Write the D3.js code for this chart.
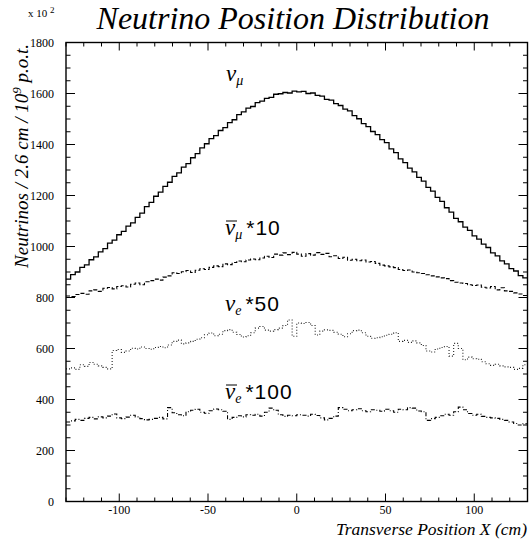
<!DOCTYPE html>
<html><head><meta charset="utf-8">
<script src="https://cdn.jsdelivr.net/npm/d3@7"></script>
<style>
html,body{margin:0;padding:0;background:#fff;}
svg{display:block;}
</style></head>
<body>
<svg id="c" width="530" height="541"></svg>
<script>
// ---- data ----
const xMin = -130, xMax = 130, nBins = 100;
const xTicks = [-100, -50, 0, 50, 100];
const yTicks = [0, 200, 400, 600, 800, 1000, 1200, 1400, 1600, 1800];
const seriesNames = ["numu", "numubar10", "nue50", "nuebar100"];

const numu = [872,890,900,918,928,948,959,979,992,1013,1025,1046,1059,1080,1093,1114,1131,1156,1173,1197,
1213,1236,1252,1275,1289,1311,1325,1348,1364,1387,1403,1423,1435,1455,1466,1486,1497,1517,1528,1543,
1549,1564,1570,1581,1585,1597,1599,1604,1602,1609,1606,1608,1600,1602,1593,1590,1577,1574,1560,1553,
1539,1532,1513,1501,1482,1470,1451,1439,1419,1407,1383,1368,1344,1329,1307,1293,1271,1256,1232,1217,
1193,1177,1152,1135,1110,1097,1076,1063,1042,1029,1009,996,975,963,944,932,913,904,886,877];

const numubar10 = [806,804,812,816,813,826,830,824,836,839,834,843,846,841,852,857,850,862,866,872,
868,880,885,897,894,901,906,898,907,913,910,918,924,921,932,929,937,943,940,947,
951,948,955,962,957,970,966,975,968,977,970,962,972,966,976,969,973,960,964,953,
958,946,950,944,947,939,941,934,927,924,920,917,910,906,908,900,897,894,889,885,
881,877,874,866,860,857,855,850,847,849,840,837,843,830,838,826,824,818,814,808];

const nue50 = [520,524,518,536,530,545,538,532,526,520,592,596,585,590,601,598,606,600,597,604,
608,603,614,628,633,618,622,628,636,642,654,661,650,656,670,674,664,655,645,650,
662,680,686,672,668,674,680,690,712,648,700,698,702,690,653,668,673,671,664,656,
646,658,670,672,662,648,640,642,646,652,656,662,628,632,624,630,622,612,590,586,
598,604,608,570,620,600,556,566,560,558,548,540,534,538,532,528,526,518,522,536];

const nuebar100 = [312,316,322,318,326,330,324,332,328,335,343,328,325,331,338,332,325,320,322,326,
330,324,368,348,340,336,352,358,362,350,346,356,363,360,354,322,330,336,332,340,
338,342,335,350,366,358,340,334,338,336,340,338,335,342,337,328,320,326,335,368,
362,356,360,364,356,352,360,358,354,362,356,350,362,360,368,366,355,352,318,325,
330,336,342,338,352,370,360,345,338,342,334,330,328,326,322,318,312,306,300,305];

const labelSubs = ["μ", "μ", "e", "e"];
const labelBars = [false, true, false, true];
const labelMults = ["", "*10", "*50", "*100"];

// ---- layout ----
const svg = d3.select("#c");
const L = 66, R = 527.5, T = 42.5, B = 501.5;
const x = d3.scaleLinear().domain([xMin, xMax]).range([L, R]);
const y = d3.scaleLinear().domain([0, 1800]).range([B, T]);
const binW = (xMax - xMin) / nBins;

function histPoints(vals) {
  const pts = vals.map((v, i) => [xMin + i * binW, v]);
  pts.push([xMax, vals[vals.length - 1]]);
  return pts;
}
const line = d3.line().x(d => x(d[0])).y(d => y(d[1])).curve(d3.curveStepAfter);

const styles = {
  numu: {dash: null, w: 1.3, c: "#000"},
  numubar10: {dash: "4,2", w: 1.1, c: "#000"},
  nue50: {dash: "1,2", w: 1.1, c: "#222"},
  nuebar100: {dash: "4,2,1,2", w: 1.1, c: "#000"}
};
const data = {numu, numubar10, nue50, nuebar100};

const g = svg.append("g");
seriesNames.forEach(n => {
  g.append("path").attr("d", line(histPoints(data[n])))
    .attr("fill", "none").attr("stroke", styles[n].c)
    .attr("stroke-width", styles[n].w)
    .attr("stroke-dasharray", styles[n].dash);
});

// ---- frame & ticks ----
const frame = svg.append("g").attr("stroke", "#000").attr("stroke-width", 1.4);
frame.append("rect").attr("x", L).attr("y", T).attr("width", R - L).attr("height", B - T).attr("fill", "none");

const xMinor = d3.range(-130, 131, 10);
xMinor.forEach(v => {
  const major = v % 50 === 0;
  const len = major ? 8 : 4;
  frame.append("line").attr("x1", x(v)).attr("x2", x(v)).attr("y1", B).attr("y2", B - len).attr("stroke-width", 1);
  frame.append("line").attr("x1", x(v)).attr("x2", x(v)).attr("y1", T).attr("y2", T + len).attr("stroke-width", 1);
});
const yMinor = d3.range(0, 1801, 50);
yMinor.forEach(v => {
  const major = v % 200 === 0;
  const len = major ? 9 : 4.5;
  frame.append("line").attr("y1", y(v)).attr("y2", y(v)).attr("x1", L).attr("x2", L + len).attr("stroke-width", 1);
  frame.append("line").attr("y1", y(v)).attr("y2", y(v)).attr("x1", R).attr("x2", R - len).attr("stroke-width", 1);
});

const serif = "'Liberation Serif', 'Times New Roman', serif";
const sans = "'Liberation Sans', Arial, sans-serif";

svg.append("g").selectAll("text").data(xTicks).join("text")
  .attr("x", d => x(d)).attr("y", 514).attr("text-anchor", "middle")
  .attr("font-family", serif).attr("font-size", 12).text(d => d);
svg.append("g").selectAll("text").data(yTicks).join("text")
  .attr("x", 54).attr("y", d => y(d) + 4).attr("text-anchor", "end")
  .attr("font-family", serif).attr("font-size", 12).text(d => d);

// exponent
const ex = svg.append("text").attr("x", 28).attr("y", 17).attr("font-family", serif).attr("font-size", 11);
ex.append("tspan").text("x 10 ");
ex.append("tspan").attr("dy", -4).attr("font-size", 9).text("2");

// title
svg.append("text").attr("x", 293).attr("y", 29).attr("text-anchor", "middle")
  .attr("font-family", serif).attr("font-style", "italic").attr("font-size", 32)
  .text("Neutrino Position Distribution");

// x label
svg.append("text").attr("x", 527).attr("y", 535).attr("text-anchor", "end")
  .attr("font-family", serif).attr("font-style", "italic").attr("font-size", 17.5)
  .text("Transverse Position X (cm)");

// y label
const yl = svg.append("text").attr("transform", "translate(28,44) rotate(-90)")
  .attr("text-anchor", "end").attr("font-family", serif).attr("font-style", "italic").attr("font-size", 19);
yl.append("tspan").text("Neutrinos / 2.6 cm / 10");
yl.append("tspan").attr("dy", -7).attr("font-size", 13).text("9");
yl.append("tspan").attr("dy", 7).text(" p.o.t.");

// series labels
const labelPos = [[226, 81], [225, 235], [225, 311], [225, 399]];
labelSubs.forEach((sub, i) => {
  const [lx, ly] = labelPos[i];
  const t = svg.append("text").attr("x", lx).attr("y", ly);
  t.append("tspan").attr("font-family", serif).attr("font-style", "italic").attr("font-size", 23).text("ν");
  t.append("tspan").attr("font-family", serif).attr("font-style", "italic").attr("font-size", 14).attr("dy", 4).text(sub);
  if (labelMults[i]) t.append("tspan").attr("font-family", sans).attr("font-size", 21).attr("dy", -4).attr("dx", 4)
    .attr("letter-spacing", 1).text(labelMults[i]);
  if (labelBars[i]) {
    svg.append("line").attr("x1", lx + 1).attr("x2", lx + 12).attr("y1", ly - 14).attr("y2", ly - 14)
      .attr("stroke", "#000").attr("stroke-width", 1);
  }
});
</script>
</body></html>
